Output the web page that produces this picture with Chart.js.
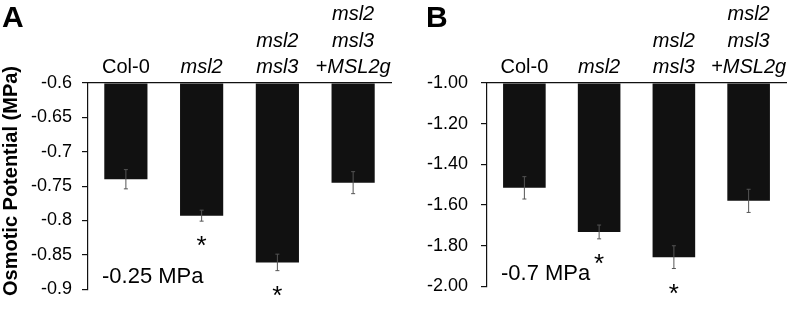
<!DOCTYPE html>
<html>
<head>
<meta charset="utf-8">
<script src="https://cdn.jsdelivr.net/npm/chart.js@4.4.1/dist/chart.umd.min.js"></script>
<style>
  html, body { margin: 0; padding: 0; background: #fff; }
  #wrap { position: relative; width: 789px; height: 310px; overflow: hidden; }
  canvas { position: absolute; top: 0; }
  #chartA { left: 0; }
  #chartB { left: 395px; }
</style>
</head>
<body>
<div id="wrap">
  <canvas id="chartA" width="395" height="310"></canvas>
  <canvas id="chartB" width="394" height="310"></canvas>
</div>
<script>
const genotypes = [["Col-0"], ["msl2"], ["msl2", "msl3"], ["msl2", "msl3", "+MSL2g"]];
const italicLabel = [false, true, true, true];
const significant = [false, true, true, false];

// panel A, -0.25 MPa
const valuesA = [-0.740, -0.793, -0.861, -0.745];
const errorsA = [0.014, 0.008, 0.012, 0.016];
const ticksA = [-0.9, -0.85, -0.8, -0.75, -0.7, -0.65, -0.6];
const tickLabelsA = ["-0.9", "-0.85", "-0.8", "-0.75", "-0.7", "-0.65", "-0.6"];

// panel B, -0.7 MPa
const valuesB = [-1.516, -1.733, -1.857, -1.580];
const errorsB = [0.055, 0.034, 0.056, 0.057];
const ticksB = [-2.0, -1.8, -1.6, -1.4, -1.2, -1.0];
const tickLabelsB = ["-2.00", "-1.80", "-1.60", "-1.40", "-1.20", "-1.00"];

const FONT = "'Liberation Sans', Arial, Helvetica, sans-serif";

// error bars, stars, panel letter and treatment text
function extrasPlugin(p) {
  return {
    id: 'extras',
    afterDatasetsDraw(chart) {
      const ctx = chart.ctx;
      const y = chart.scales.y;
      const area = chart.chartArea;
      const meta = chart.getDatasetMeta(0);
      ctx.save();
      ctx.strokeStyle = '#555';
      ctx.lineWidth = 1;
      ctx.fillStyle = '#000';
      meta.data.forEach((bar, i) => {
        const v = p.values[i], e = p.errors[i];
        const top = y.getPixelForValue(v + e);
        const bot = y.getPixelForValue(v - e);
        ctx.beginPath();
        ctx.moveTo(bar.x, top); ctx.lineTo(bar.x, bot);
        ctx.moveTo(bar.x - 2, top); ctx.lineTo(bar.x + 2, top);
        ctx.moveTo(bar.x - 2, bot); ctx.lineTo(bar.x + 2, bot);
        ctx.stroke();
        if (significant[i]) {
          ctx.font = '26px ' + FONT;
          ctx.textAlign = 'center';
          ctx.textBaseline = 'alphabetic';
          ctx.fillText('*', bar.x, bot + 33);
        }
      });

      ctx.textAlign = 'left';
      ctx.textBaseline = 'middle';
      ctx.font = '22px ' + FONT;
      ctx.fillText(p.note, area.left + 14, area.bottom - 12);

      ctx.textBaseline = 'alphabetic';
      ctx.font = 'bold 30px ' + FONT;
      ctx.fillText(p.letter, p.letterX, 27);

      if (p.yTitle) {
        ctx.translate(17, 181);
        ctx.rotate(-Math.PI / 2);
        ctx.textAlign = 'center';
        ctx.textBaseline = 'alphabetic';
        ctx.font = 'bold 20px ' + FONT;
        ctx.fillText(p.yTitle, 0, 0);
      }
      ctx.restore();
    }
  };
}

function makePanel(id, p) {
  return new Chart(document.getElementById(id), {
    type: 'bar',
    data: {
      labels: genotypes,
      datasets: [{
        data: p.values,
        base: p.ticks[p.ticks.length - 1],
        backgroundColor: '#111',
        barPercentage: 0.57,
        categoryPercentage: 1
      }]
    },
    options: {
      responsive: false,
      animation: false,
      devicePixelRatio: 1,
      layout: { padding: { top: 0, right: p.padRight, bottom: p.padBottom, left: 0 } },
      plugins: { legend: { display: false }, tooltip: { enabled: false } },
      scales: {
        x: {
          position: 'top',
          afterFit: s => { s.height = 83; },
          grid: { display: false, drawTicks: false },
          border: { display: true, color: '#111', width: 1.2 },
          ticks: {
            autoSkip: false,
            padding: 2,
            color: '#000',
            maxRotation: 0,
            minRotation: 0,
            font: c => ({ family: FONT, size: 20, lineHeight: 1.33, style: italicLabel[c.index] ? 'italic' : 'normal' })
          }
        },
        y: {
          min: p.ticks[0],
          max: p.ticks[p.ticks.length - 1],
          afterFit: s => { s.width = p.axisWidth; },
          afterBuildTicks: s => { s.ticks = p.ticks.map(v => ({ value: v })); },
          grid: { drawOnChartArea: false, drawTicks: true, tickLength: 6, color: '#111', lineWidth: 1.2 },
          border: { display: true, color: '#111', width: 1.2 },
          ticks: {
            padding: p.tickPad,
            color: '#000',
            font: { family: FONT, size: 18 },
            callback: (v, i) => p.tickLabels[i]
          }
        }
      }
    },
    plugins: [extrasPlugin(p)]
  });
}

makePanel('chartA', {
  values: valuesA, errors: errorsA, ticks: ticksA, tickLabels: tickLabelsA,
  note: '-0.25 MPa', letter: 'A', letterX: 2, yTitle: 'Osmotic Potential (MPa)',
  axisWidth: 88, tickPad: 10, padRight: 4, padBottom: 11
});

makePanel('chartB', {
  values: valuesB, errors: errorsB, ticks: ticksB, tickLabels: tickLabelsB,
  note: '-0.7 MPa', letter: 'B', letterX: 31, yTitle: null,
  axisWidth: 92, tickPad: 13, padRight: 3, padBottom: 12
});
</script>
</body>
</html>
